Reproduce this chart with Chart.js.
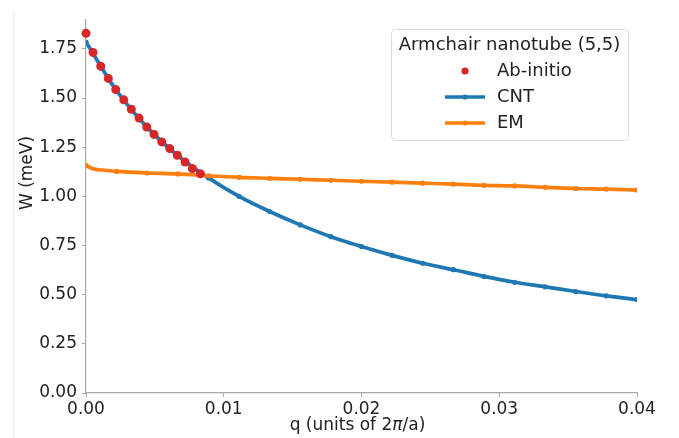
<!DOCTYPE html>
<html>
<head>
<meta charset="utf-8">
<script src="https://cdn.jsdelivr.net/npm/chart.js@4/dist/chart.umd.min.js"></script>
<style>
  body { margin: 0; background: #fff; }
  #wrap { width: 679px; height: 438px; position: relative; }
</style>
</head>
<body>
<div id="wrap"><canvas id="chart"></canvas></div>
<script>
// values
const abQ = [0, 0.00051, 0.00107, 0.00162, 0.00216, 0.00274, 0.00329, 0.00385, 0.00441, 0.00494, 0.00550, 0.00608, 0.00663, 0.00719, 0.00772, 0.00830];
const abW = [1.829, 1.732, 1.662, 1.600, 1.543, 1.491, 1.443, 1.398, 1.353, 1.315, 1.277, 1.243, 1.209, 1.175, 1.142, 1.115];

const cntQ = [0, 0.002222, 0.004444, 0.006667, 0.008889, 0.011111, 0.013333, 0.015556, 0.017778, 0.02, 0.022222, 0.024444, 0.026667, 0.028889, 0.031111, 0.033333, 0.035556, 0.037778, 0.04];
const cntW = [1.785, 1.537, 1.351, 1.207, 1.094, 1.000, 0.923, 0.855, 0.795, 0.745, 0.700, 0.660, 0.627, 0.593, 0.563, 0.540, 0.516, 0.494, 0.475];

const emQ = [0, 0.0005, 0.0012, 0.002222, 0.004444, 0.006667, 0.008889, 0.011111, 0.013333, 0.015556, 0.017778, 0.02, 0.022222, 0.024444, 0.026667, 0.028889, 0.031111, 0.033333, 0.035556, 0.037778, 0.04];
const emW = [1.158, 1.140, 1.134, 1.127, 1.119, 1.114, 1.105, 1.097, 1.092, 1.087, 1.082, 1.077, 1.072, 1.067, 1.062, 1.056, 1.053, 1.046, 1.040, 1.037, 1.032];

const xTicks = [0, 0.01, 0.02, 0.03, 0.04];
const yTicks = [0, 0.25, 0.5, 0.75, 1.0, 1.25, 1.5, 1.75];

const legendTitle = 'Armchair nanotube (5,5)';
const seriesNames = ['Ab-initio', 'CNT', 'EM'];

const RED = '#d62728', BLUE = '#1f77b4', ORANGE = '#ff7f0e';
const FONT = 'DejaVu Sans';
const TXT = '#222222';
const SPINE = '#a8a8a8';

const toPts = (qs, ws) => qs.map((q, i) => ({ x: q, y: ws[i] }));
// marker every 0.04/18 in q, like matplotlib markevery
const markStep = 0.04 / 18;
const markerRadius = ctx => {
    const q = ctx.raw ? ctx.raw.x : 0;
    const r = q / markStep;
    return Math.abs(r - Math.round(r)) < 0.02 ? 2.6 : 0;
};

const legendPlugin = {
    id: 'boxLegend',
    beforeDraw(chart) {
        const c = chart.ctx;
        c.save();
        c.strokeStyle = '#ececec';
        c.lineWidth = 1;
        c.beginPath();
        c.moveTo(13.5, 12);
        c.lineTo(13.5, 438);
        c.stroke();
        c.restore();
    },
    afterDatasetsDraw(chart) {
        const c = chart.ctx;
        const a = chart.chartArea;
        const w = 237, h = 111;
        const x0 = a.right - 9 - w, y0 = a.top + 9;
        c.save();
        c.beginPath();
        c.roundRect(x0 + 0.5, y0 + 0.5, w, h, 4);
        c.fillStyle = 'rgba(255,255,255,0.85)';
        c.fill();
        c.strokeStyle = '#dcdcdc';
        c.lineWidth = 1;
        c.stroke();

        c.fillStyle = TXT;
        c.font = '18px "' + FONT + '"';
        c.textBaseline = 'middle';
        c.textAlign = 'center';
        c.fillText(legendTitle, x0 + w / 2, y0 + 16);

        const rows = [y0 + 42, y0 + 68, y0 + 94];
        c.textAlign = 'left';
        // Ab-initio
        c.fillStyle = RED;
        c.beginPath();
        c.arc(x0 + 74, rows[0], 3.6, 0, Math.PI * 2);
        c.fill();
        // CNT, EM
        [[BLUE, rows[1]], [ORANGE, rows[2]]].forEach(([col, yy]) => {
            c.strokeStyle = col;
            c.lineWidth = 3.5;
            c.beginPath();
            c.moveTo(x0 + 54, yy);
            c.lineTo(x0 + 94, yy);
            c.stroke();
            c.fillStyle = col;
            c.beginPath();
            c.arc(x0 + 74, yy, 2.6, 0, Math.PI * 2);
            c.fill();
        });
        c.fillStyle = TXT;
        seriesNames.forEach((n, i) => c.fillText(n, x0 + 106, rows[i]));

        // y axis title
        c.save();
        c.translate(28, 173);
        c.rotate(-Math.PI / 2);
        c.textAlign = 'center';
        c.font = '17px "' + FONT + '"';
        c.fillText('W (meV)', 0, 0);
        c.restore();

        // x axis title, with italic pi as in mathtext
        const regular = '17px "' + FONT + '"';
        const italic = 'italic 17px "' + FONT + '"';
        const parts = [['q (units of 2', regular], ['π', italic], ['/a)', regular]];
        let total = 0;
        parts.forEach(([t, f]) => { c.font = f; total += c.measureText(t).width; });
        let xx = (a.left + a.right) / 2 - 4 - total / 2;
        c.textAlign = 'left';
        parts.forEach(([t, f]) => {
            c.font = f;
            c.fillText(t, xx, 426);
            xx += c.measureText(t).width;
        });
        c.restore();
    }
};

new Chart(document.getElementById('chart'), {
    type: 'scatter',
    data: {
        datasets: [
            {
                label: seriesNames[0],
                data: toPts(abQ, abW),
                backgroundColor: RED,
                borderColor: RED,
                pointRadius: 4.5,
                pointBorderWidth: 0,
                showLine: false,
                clip: false,
                order: 0
            },
            {
                label: seriesNames[1],
                data: toPts(cntQ, cntW),
                borderColor: BLUE,
                backgroundColor: BLUE,
                borderWidth: 3.7,
                pointRadius: markerRadius,
                pointBorderWidth: 0,
                showLine: true,
                cubicInterpolationMode: 'monotone',
                order: 2
            },
            {
                label: seriesNames[2],
                data: toPts(emQ, emW),
                borderColor: ORANGE,
                backgroundColor: ORANGE,
                borderWidth: 3.7,
                pointRadius: markerRadius,
                pointBorderWidth: 0,
                showLine: true,
                cubicInterpolationMode: 'monotone',
                order: 1
            }
        ]
    },
    options: {
        responsive: true,
        maintainAspectRatio: false,
        animation: false,
        layout: { padding: { top: 20, right: 42, left: 0, bottom: 0 } },
        plugins: { legend: { display: false }, tooltip: { enabled: false } },
        scales: {
            x: {
                type: 'linear',
                min: 0,
                max: 0.04,
                afterBuildTicks: s => { s.ticks = xTicks.map(v => ({ value: v })); },
                afterFit: s => { s.height = 45; },
                ticks: {
                    callback: v => v.toFixed(2),
                    font: { family: FONT, size: 17 },
                    color: TXT,
                    padding: 2,
                    maxRotation: 0
                },
                grid: { drawOnChartArea: false, tickLength: 4, tickColor: SPINE, color: SPINE },
                border: { color: SPINE, width: 1.2 }
            },
            y: {
                type: 'linear',
                min: 0,
                max: 1.897,
                afterBuildTicks: s => { s.ticks = yTicks.map(v => ({ value: v })); },
                afterFit: s => { s.width = 86; },
                ticks: {
                    callback: v => v.toFixed(2),
                    font: { family: FONT, size: 17 },
                    color: TXT,
                    padding: 5
                },
                grid: { drawOnChartArea: false, tickLength: 4, tickColor: SPINE, color: SPINE },
                border: { color: SPINE, width: 1.2 }
            }
        }
    },
    plugins: [legendPlugin]
});
</script>
</body>
</html>
